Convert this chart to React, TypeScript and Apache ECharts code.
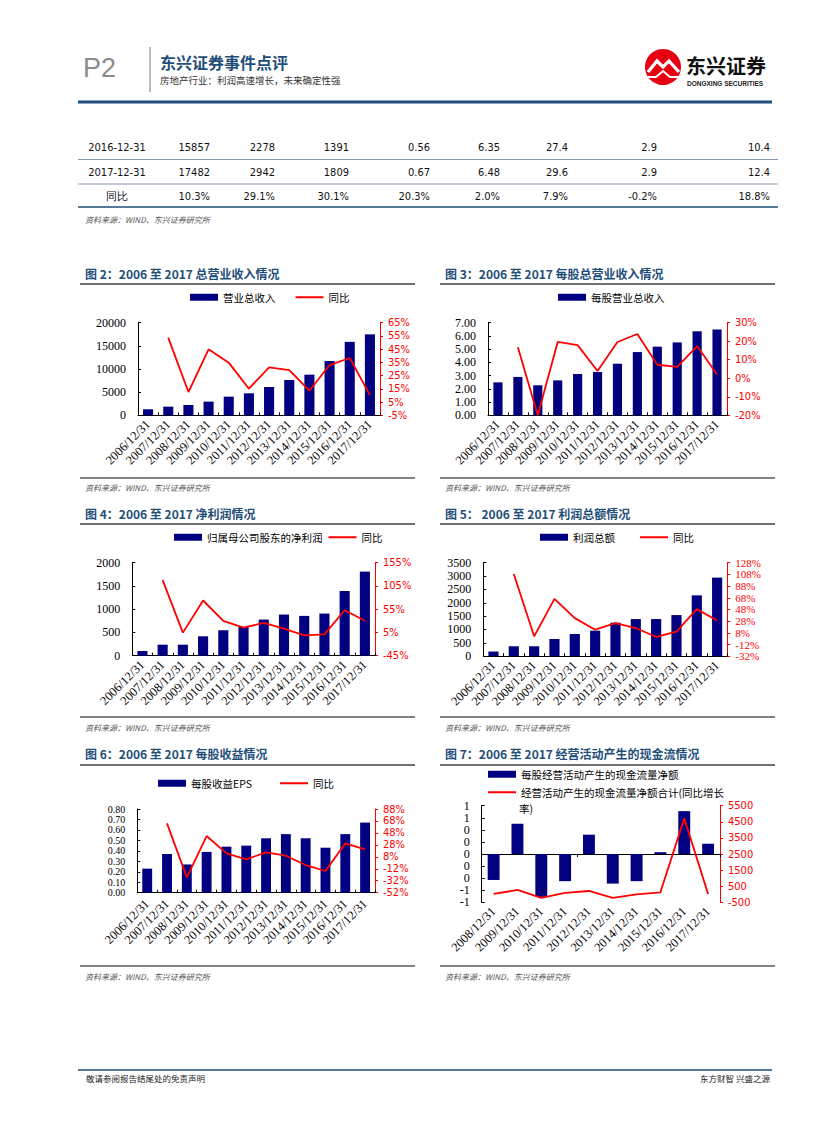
import React, { useEffect, useRef } from 'react';
import * as echarts from 'echarts';

const CJK = "'Noto Sans CJK SC', 'Noto Sans', sans-serif";
const SERIF = "'Liberation Serif', 'DejaVu Serif', serif";
const SANS = "'Liberation Sans', Arial, sans-serif";
const NARROW = "'Liberation Sans Narrow', 'DejaVu Sans Condensed', 'Liberation Sans', sans-serif";
const NAVY = '#000080';
const RED = '#FF0000';
const BLUE = '#1F4E79';
const LINE_ICON = 'path://M0,0L28,0L28,2L0,2Z';

// ---------- data ----------
const years12 = ['2006/12/31', '2007/12/31', '2008/12/31', '2009/12/31', '2010/12/31', '2011/12/31', '2012/12/31', '2013/12/31', '2014/12/31', '2015/12/31', '2016/12/31', '2017/12/31'];
const years10 = ['2008/12/31', '2009/12/31', '2010/12/31', '2011/12/31', '2012/12/31', '2013/12/31', '2014/12/31', '2015/12/31', '2016/12/31', '2017/12/31'];

const revenue = [1300, 1870, 2230, 2950, 4030, 4750, 6115, 7625, 8777, 11727, 15857, 17482];
const revenueYoY = [null, 53.7, 12.6, 44.9, 34.8, 15.1, 31.3, 29.2, 13.6, 33.0, 38.3, 10.3];
const revPerShare = [2.49, 2.90, 2.27, 2.64, 3.12, 3.27, 3.90, 4.78, 5.19, 5.51, 6.35, 6.48];
const revPerShareYoY = [null, 16.7, -20, 19.6, 17.9, 3.9, 19.6, 23.9, 7.3, 6.1, 17.4, 2.0];
const netProfit = [101, 237, 237, 417, 547, 620, 777, 885, 856, 906, 1391, 1809];
const netProfitYoY = [null, 117.6, 4.6, 73.7, 29.8, 15.4, 25.5, 13.3, -1.1, 1.0, 52.8, 30.1];
const totalProfit = [174, 372, 372, 645, 832, 956, 1254, 1390, 1390, 1539, 2278, 2942];
const totalProfitYoY = [null, 108.7, 2.0, 66.2, 33.2, 13.4, 24.7, 16.2, 0.9, 10.0, 48.6, 29.1];
const eps = [0.23, 0.37, 0.27, 0.39, 0.44, 0.45, 0.52, 0.56, 0.52, 0.43, 0.56, 0.67];
const epsYoY = [null, 64, -26.3, 42.8, 13.8, 3.8, 15.5, 9.9, -5.7, -15.7, 30.5, 20.3];
const cashPerShare = [-0.43, 0.50, -0.71, -0.45, 0.32, -0.49, -0.45, 0.03, 0.71, 0.17];
const cashYoY = [17, 266, -231, 79, 203, -231, -3, 121, 4714, 17];

const tableRows = [
  ['2016-12-31', '15857', '2278', '1391', '0.56', '6.35', '27.4', '2.9', '10.4'],
  ['2017-12-31', '17482', '2942', '1809', '0.67', '6.48', '29.6', '2.9', '12.4'],
  ['同比', '10.3%', '29.1%', '30.1%', '20.3%', '2.0%', '7.9%', '-0.2%', '18.8%'],
];

const SOURCE = '资料来源：WIND、东兴证券研究所';

// ---------- helpers ----------
function txt(x: number, y: number, text: string, o: any = {}) {
  return {
    type: 'text', x, y, silent: true,
    style: {
      text,
      fill: o.fill || '#000',
      fontSize: o.size || 10,
      fontFamily: o.family || CJK,
      fontWeight: o.weight || 'normal',
      fontStyle: o.style || 'normal',
      align: o.align || 'left', textAlign: o.align || 'left',
      verticalAlign: 'middle', textVerticalAlign: 'middle',
    },
  };
}
function ln(x1: number, y1: number, x2: number, y2: number, stroke: string, w: number) {
  return { type: 'line', silent: true, shape: { x1, y1, x2, y2 }, style: { stroke, lineWidth: w } };
}

function buildOption() {
  const grid: any[] = [];
  const xAxis: any[] = [];
  const yAxis: any[] = [];
  const series: any[] = [];
  const legend: any[] = [];

  const panel = (p: any) => {
    const g = grid.length;
    grid.push({ left: p.box[0], top: p.box[1], width: p.box[2], height: p.box[3] });
    const xi = xAxis.length;
    const labelCfg = { rotate: 45, interval: 0, fontFamily: SERIF, fontSize: 12.5, color: '#000', margin: p.xMargin || 7, hideOverlap: false };
    if (p.zeroLine) {
      xAxis.push({ type: 'category', gridIndex: g, data: p.cats, position: 'bottom', axisLine: { show: false, onZero: false }, axisTick: { show: false }, axisLabel: labelCfg });
      xAxis.push({ type: 'category', gridIndex: g, data: p.cats, position: 'bottom', axisLine: { show: true, onZero: true, lineStyle: { color: '#000', width: 1 } }, axisTick: { show: true, length: 3, lineStyle: { color: '#000' } }, axisLabel: { show: false } });
    } else {
      xAxis.push({ type: 'category', gridIndex: g, data: p.cats, position: 'bottom', axisLine: { show: true, onZero: false, lineStyle: { color: '#000', width: 1 } }, axisTick: { show: true, length: 3, inside: true, lineStyle: { color: '#000' } }, axisLabel: labelCfg });
    }
    const yl = yAxis.length;
    yAxis.push({
      type: 'value', gridIndex: g, position: 'left', min: p.left.min, max: p.left.max, interval: p.left.interval,
      splitLine: { show: false },
      axisLine: { show: true, lineStyle: { color: '#000', width: 1 } },
      axisTick: { show: true, inside: true, length: 3, lineStyle: { color: '#000' } },
      axisLabel: { color: '#000', fontFamily: SERIF, fontSize: p.left.size || 12, lineHeight: p.left.lh || 12, margin: 12, showMinLabel: true, showMaxLabel: true, hideOverlap: false, formatter: p.left.fmt },
    });
    const off = p.right.offset || 0;
    yAxis.push({
      type: 'value', gridIndex: g, position: 'right', min: p.right.min + off, max: p.right.max + off, interval: p.right.interval,
      splitLine: { show: false },
      axisLine: { show: true, lineStyle: { color: RED, width: 1 } },
      axisTick: { show: true, length: 3, lineStyle: { color: RED } },
      axisLabel: { color: RED, fontFamily: p.right.family || NARROW, fontSize: p.right.size || 11, lineHeight: 11, margin: 8, showMinLabel: true, showMaxLabel: true, hideOverlap: false, formatter: (v: number) => p.right.fmt(Math.round((v - off) * 100) / 100) },
    });
    series.push({
      type: 'bar', name: p.barName, xAxisIndex: xi, yAxisIndex: yl, data: p.bars, barWidth: p.barWidth || '50%',
      itemStyle: { color: NAVY }, z: 2,
    });
    series.push({
      type: 'line', name: p.lineName, xAxisIndex: xi, yAxisIndex: yl + 1,
      data: p.line.map((v: number | null) => (v == null ? null : v + off)),
      symbol: 'none', lineStyle: { color: RED, width: 1.8 }, itemStyle: { color: RED }, z: 3,
    });
    for (const lg of p.legends) {
      legend.push({
        left: lg.left, top: lg.top, padding: 0, itemWidth: 28, itemHeight: 7, itemGap: lg.gap || 20,
        selectedMode: false, orient: 'horizontal',
        textStyle: { fontFamily: CJK, fontSize: 10.5, color: '#000' },
        data: lg.data.map((n: string) => (n === p.barName ? { name: n, icon: 'rect' } : { name: n, icon: LINE_ICON })),
      });
    }
  };

  const pct = (v: number) => v + '%';
  const int = (v: number) => String(v);
  const two = (v: number) => v.toFixed(2);

  panel({
    box: [138, 322.7, 242, 92.6], cats: years12, barName: '营业总收入', lineName: '同比', bars: revenue, line: revenueYoY,
    left: { min: 0, max: 20000, interval: 5000, fmt: int },
    right: { min: -5, max: 65, interval: 10, offset: 5, fmt: pct },
    legends: [{ left: 190, top: 292, gap: 20, data: ['营业总收入', '同比'] }],
  });
  panel({
    box: [488, 322.7, 239, 92.6], cats: years12, barName: '每股营业总收入', lineName: '同比', bars: revPerShare, line: revPerShareYoY,
    left: { min: 0, max: 7, interval: 1, fmt: two },
    right: { min: -20, max: 30, interval: 10, offset: 0, fmt: pct },
    barWidth: '46%',
    legends: [{ left: 558, top: 292, data: ['每股营业总收入'] }],
  });
  panel({
    box: [132.3, 562.7, 242.7, 93], cats: years12, barName: '归属母公司股东的净利润', lineName: '同比', bars: netProfit, line: netProfitYoY,
    left: { min: 0, max: 2000, interval: 500, fmt: int },
    right: { min: -45, max: 155, interval: 50, offset: 45, fmt: pct },
    legends: [{ left: 174, top: 532, gap: 6, data: ['归属母公司股东的净利润', '同比'] }],
  });
  panel({
    box: [483.3, 562.7, 244, 93.5], cats: years12, barName: '利润总额', lineName: '同比', bars: totalProfit, line: totalProfitYoY,
    left: { min: 0, max: 3500, interval: 500, fmt: int, lh: 11 },
    right: { min: -32, max: 128, interval: 20, offset: 32, fmt: pct, family: SERIF, size: 11 },
    legends: [{ left: 540, top: 532, gap: 25, data: ['利润总额', '同比'] }],
  });
  panel({
    box: [137.3, 809, 237.7, 83.7], cats: years12, barName: '每股收益EPS', lineName: '同比', bars: eps, line: epsYoY,
    left: { min: 0, max: 80, interval: 10, fmt: (v: number) => (v / 100).toFixed(2), size: 10, lh: 9 },
    scaleBars: 100,
    right: { min: -52, max: 88, interval: 20, offset: 52, fmt: pct },
    xMargin: 9,
    legends: [{ left: 158, top: 778, gap: 28, data: ['每股收益EPS', '同比'] }],
  });
  panel({
    box: [481.7, 805.7, 238.3, 96.6], cats: years10, zeroLine: true,
    barName: '每股经营活动产生的现金流量净额', lineName: '经营活动产生的现金流量净额合计(同比增长',
    bars: cashPerShare, line: cashYoY,
    left: { min: -0.8, max: 0.8, interval: 0.2, fmt: (v: number) => String(Math.round(v) === 0 ? 0 : Math.round(v)), lh: 11 },
    right: { min: -500, max: 5500, interval: 1000, offset: 500, fmt: int },
    legends: [
      { left: 488, top: 769, data: ['每股经营活动产生的现金流量净额'] },
      { left: 488, top: 787, data: ['经营活动产生的现金流量净额合计(同比增长'] },
    ],
  });

  // EPS bars are plotted in cents on their axis (labels convert back)
  const epsSeries = series.find((s) => s.name === '每股收益EPS');
  if (epsSeries) epsSeries.data = eps.map((v) => Math.round(v * 10000) / 100);

  // ---------- graphic ----------
  const gfx: any[] = [];
  // header
  gfx.push(txt(83, 68, 'P2', { size: 27, family: SANS, fill: '#8c8c8c' }));
  gfx.push(ln(150, 47, 150, 92, '#a6a6a6', 1.5));
  gfx.push(txt(160, 62, '东兴证券事件点评', { size: 16, weight: 'bold', fill: BLUE }));
  gfx.push(txt(160, 80, '房地产行业：利润高速增长，未来确定性强', { size: 9.5, fill: '#333' }));
  // logo
  gfx.push({ type: 'circle', silent: true, shape: { cx: 663, cy: 67, r: 18 }, style: { fill: '#E60012' } });
  gfx.push({ type: 'polyline', silent: true, shape: { points: [[648, 72], [657, 61], [663, 67], [669, 61], [679, 72]] }, style: { stroke: '#fff', lineWidth: 3.2, fill: 'none' } });
  gfx.push({ type: 'polyline', silent: true, shape: { points: [[647, 77], [656, 77], [663, 71], [670, 77], [680, 77]] }, style: { stroke: '#fff', lineWidth: 2, fill: 'none' } });
  gfx.push(txt(686, 65, '东兴证券', { size: 20, weight: 'bold', fill: '#111' }));
  gfx.push(txt(687, 83, 'DONGXING SECURITIES', { size: 6.5, weight: 'bold', family: SANS, fill: '#222' }));
  gfx.push(ln(78, 102, 772, 102, BLUE, 3));

  // table
  const rowY = [147, 172, 196];
  const colX = [117, 210, 275, 349, 430, 500, 568, 657, 770];
  tableRows.forEach((row, r) => {
    row.forEach((cell, c) => {
      gfx.push(txt(colX[c], rowY[r], cell, { size: 11, family: NARROW, align: c === 0 ? 'center' : 'right', fill: '#111' }));
    });
  });
  gfx.push(ln(78, 159.5, 778, 159.5, '#8497b0', 1));
  gfx.push(ln(78, 184, 778, 184, '#8497b0', 1));
  gfx.push(ln(78, 207, 778, 207, BLUE, 1.5));
  gfx.push(txt(85, 219, SOURCE, { size: 8, style: 'italic', fill: '#555' }));

  // chart section frames
  const titles = [
    [85, 273, '图 2：2006 至 2017 总营业收入情况'],
    [445, 273, '图 3：2006 至 2017 每股总营业收入情况'],
    [85, 513, '图 4：2006 至 2017 净利润情况'],
    [445, 513, '图 5： 2006 至 2017 利润总额情况'],
    [85, 753, '图 6：2006 至 2017 每股收益情况'],
    [445, 753, '图 7：2006 至 2017 经营活动产生的现金流情况'],
  ];
  titles.forEach((t: any) => gfx.push(txt(t[0], t[1], t[2], { size: 12, weight: 'bold', fill: BLUE })));
  const rules = [[284, 478, 487], [524, 717, 727], [765, 966, 976]];
  rules.forEach(([tl, dl, sy]) => {
    gfx.push(ln(80, tl, 415, tl, '#404040', 1.5));
    gfx.push(ln(440, tl, 775, tl, '#404040', 1.5));
    gfx.push(ln(80, dl, 415, dl, '#595959', 1.5));
    gfx.push(ln(440, dl, 775, dl, '#595959', 1.5));
    gfx.push(txt(85, sy, SOURCE, { size: 8, style: 'italic', fill: '#555' }));
    gfx.push(txt(445, sy, SOURCE, { size: 8, style: 'italic', fill: '#555' }));
  });
  gfx.push(txt(519, 808, '率)', { size: 10.5 }));

  // footer
  gfx.push(ln(78, 1070, 772, 1070, BLUE, 1.5));
  gfx.push(txt(86, 1078, '敬请参阅报告结尾处的免责声明', { size: 8.5, fill: '#222' }));
  gfx.push(txt(770, 1078, '东方财智 兴盛之源', { size: 8.5, fill: '#222', align: 'right' }));

  return {
    animation: false,
    backgroundColor: '#fff',
    grid, xAxis, yAxis, series, legend,
    graphic: gfx,
  };
}

export default function App() {
  const ref = useRef<HTMLDivElement>(null);
  useEffect(() => {
    const chart = echarts.init(ref.current!, null, { renderer: 'svg', width: 827, height: 1122 });
    chart.setOption(buildOption() as any);
    return () => chart.dispose();
  }, []);
  return <div ref={ref} style={{ position: 'absolute', left: 0, top: 0, width: 827, height: 1122, background: '#fff' }} />;
}
